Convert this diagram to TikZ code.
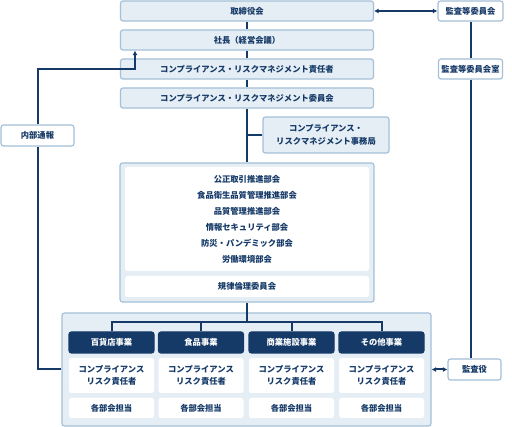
\documentclass[tikz,border=0pt]{standalone}
\usepackage{fontspec}
\setmainfont{Noto Sans CJK JP}
\usetikzlibrary{arrows.meta}
\definecolor{navy}{HTML}{163A68}
\definecolor{pale}{HTML}{E6EEF5}
\definecolor{rim}{HTML}{A3C0D8}
\tikzset{
  box/.style={draw=rim, fill=pale, rounded corners=2.5pt, line width=1.2pt, text=navy,
    font=\fontsize{8.3}{12.5}\selectfont\bfseries, inner sep=0pt, align=center},
  wbox/.style={box, fill=white},
  plain/.style={box, draw=none, fill=white},
  head/.style={box, draw=navy, fill=navy, text=white},
  link/.style={draw=navy, line width=2pt},
  tip/.style={link, arrows={Latex[length=4.5pt,width=5pt]-Latex[length=4.5pt,width=5pt]}},
}
\begin{document}
\begin{tikzpicture}[x=1pt,y=-1pt]
        \useasboundingbox (0,0) rectangle (512,427);
        % main column
        \node[box, minimum width=253, minimum height=20] (board) at (247, 11) {取締役会};
        \node[box, minimum width=253, minimum height=20] (pres) at (247, 40) {社長（経営会議）};
        \node[box, minimum width=253, minimum height=20] (resp) at (247, 69) {コンプライアンス・リスクマネジメント責任者};
        \node[box, minimum width=253, minimum height=20] (comm) at (247, 98) {コンプライアンス・リスクマネジメント委員会};
        \node[box, minimum width=126, minimum height=36] (office) at (326, 135) {コンプライアンス・\\リスクマネジメント事務局};
        % sub-committees
        \node[box, minimum width=254, minimum height=139] (depts) at (247, 232.5) {};
        \node[plain, minimum width=244, minimum height=104] (groups) at (247, 219) {};
        \node[box, fill=none, draw=none, font=\fontsize{8.3}{16}\selectfont\bfseries] at (groups) {公正取引推進部会\\食品衛生品質管理推進部会\\品質管理推進部会\\情報セキュリティ部会\\防災・パンデミック部会\\労働環境部会};
        \node[plain, minimum width=244, minimum height=21] (ethics) at (247, 286.5) {規律倫理委員会};
        % audit side
        \node[wbox, minimum width=65, minimum height=20] (audc) at (470.5, 11) {監査等委員会};
        \node[wbox, minimum width=64, minimum height=20] (audr) at (470.5, 69) {監査等委員会室};
        \node[wbox, minimum width=53, minimum height=21] (aud) at (474.5, 369.5) {監査役};
        \node[wbox, minimum width=73, minimum height=21] (whistle) at (37.5, 135.5) {内部通報};
        % business units
        \node[box, minimum width=369, minimum height=113] (units) at (246.5, 369.5) {};
        \node[head, minimum width=85, minimum height=21] (h1) at (111.5, 342.5) {百貨店事業};
        \node[head, minimum width=85, minimum height=21] (h2) at (201, 342.5) {食品事業};
        \node[head, minimum width=85, minimum height=21] (h3) at (291.5, 342.5) {商業施設事業};
        \node[head, minimum width=85, minimum height=21] (h4) at (381.5, 342.5) {その他事業};
        \node[plain, minimum width=85, minimum height=35] (c1) at (111.5, 375.5) {コンプライアンス\\リスク責任者};
        \node[plain, minimum width=85, minimum height=35] (c2) at (201, 375.5) {コンプライアンス\\リスク責任者};
        \node[plain, minimum width=85, minimum height=35] (c3) at (291.5, 375.5) {コンプライアンス\\リスク責任者};
        \node[plain, minimum width=85, minimum height=35] (c4) at (381.5, 375.5) {コンプライアンス\\リスク責任者};
        \node[plain, minimum width=85, minimum height=20] (d1) at (111.5, 408) {各部会担当};
        \node[plain, minimum width=85, minimum height=20] (d2) at (201, 408) {各部会担当};
        \node[plain, minimum width=85, minimum height=20] (d3) at (291.5, 408) {各部会担当};
        \node[plain, minimum width=85, minimum height=20] (d4) at (381.5, 408) {各部会担当};
        % connectors
        \draw[link] (board) -- (pres);
        \draw[link] (pres) -- (resp);
        \draw[link] (resp) -- (comm);
        \draw[link] (comm) -- (depts);
        \draw[link] (office.west) -- (office.west -| comm.south);
        \coordinate (split) at (247, 322);
        \draw[link] (depts.south) -- (split);
        \draw[link] (h1.north) |- (split) -| (h4.north);
        \draw[link] (h2.north) -- (h2.north |- split);
        \draw[link] (h3.north) -- (h3.north |- split);
        \draw[tip] (board) -- (audc);
        \draw[link] (audc) -- (audr);
        \draw[link] (audr) -- (aud.north -| audr.south);
        \draw[tip] (units.east) -- (aud.west);
        \coordinate (turn) at (135, 69);
        \draw[link, -{Latex[length=4.5pt,width=5pt]}] (whistle.north) |- (turn) -- (pres.south -| turn);
        \draw[link] (whistle.south) |- (units.west);
    \end{tikzpicture}
\end{document}
